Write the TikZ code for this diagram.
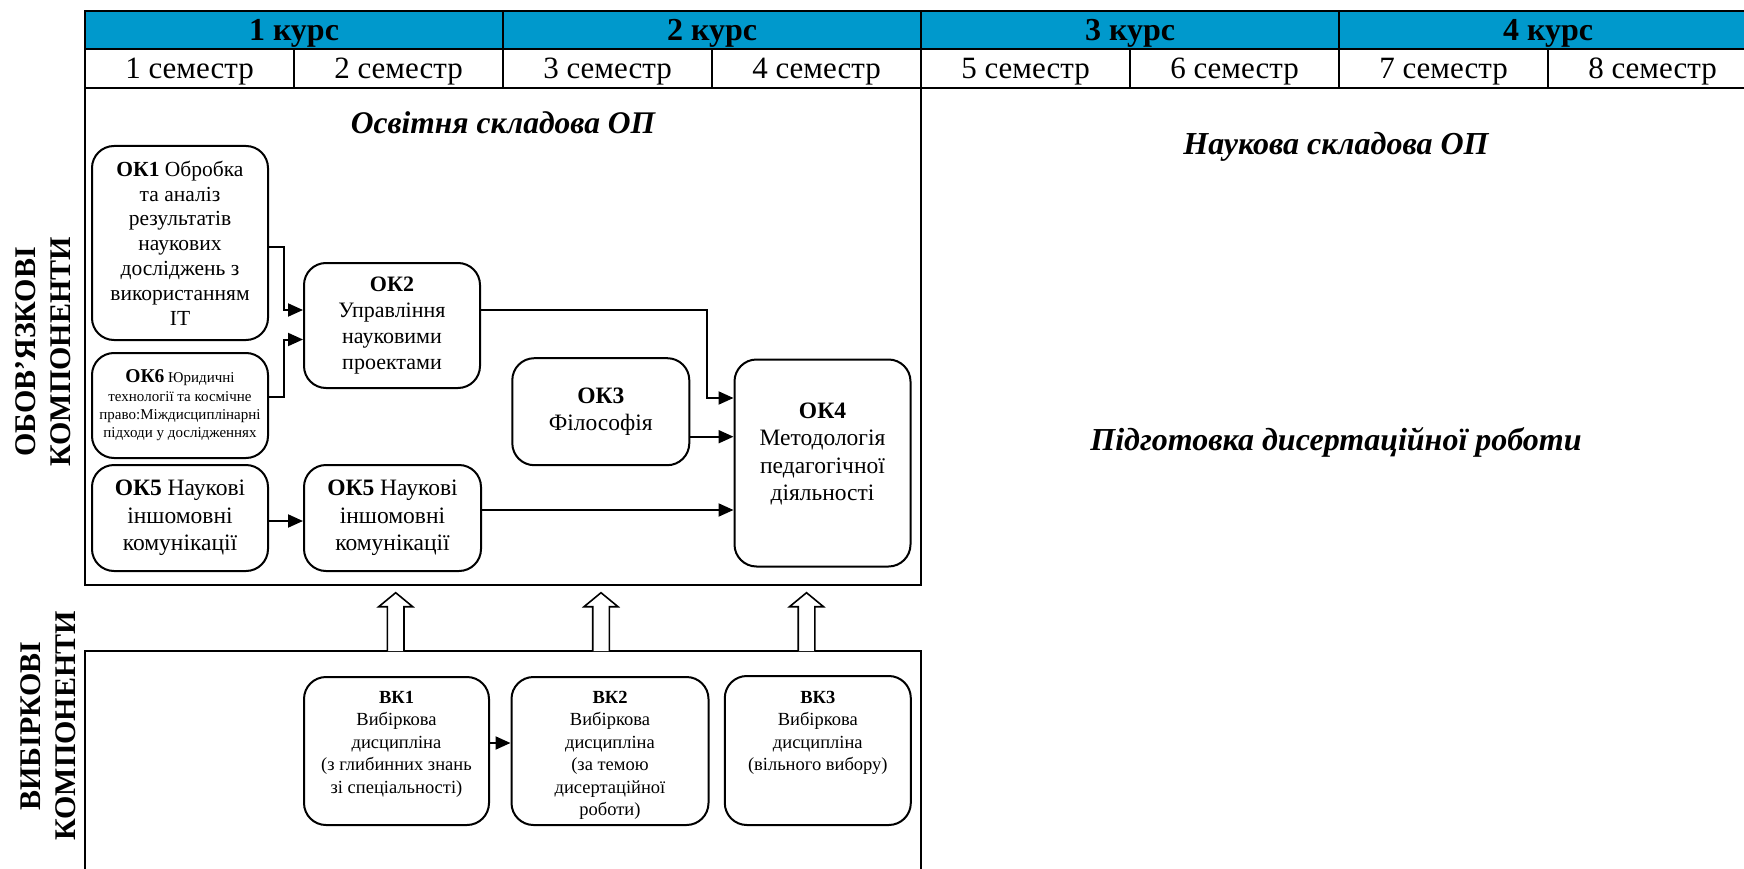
\documentclass[tikz,border=0pt]{standalone}
\usepackage{fontspec}
\setmainfont{Liberation Serif}
\usetikzlibrary{arrows.meta,calc}
\definecolor{hdrblue}{RGB}{0,153,204}
\newcommand\fsz[2]{\fontsize{#1}{#2}\selectfont}
\begin{document}
\begin{tikzpicture}[x=1pt,y=-1pt,
  cellbase/.style={draw, line width=2.3pt, inner sep=0pt, text depth=0pt},
  course/.style={cellbase, fill=hdrblue, minimum width=418pt, minimum height=38pt, font={\bfseries\fsz{32}{36}}},
  sem/.style={cellbase, minimum width=209pt, minimum height=39pt, font={\fsz{31}{34}}},
  frame/.style={draw, line width=2.3pt, inner sep=0pt},
  box/.style={draw, line width=2pt, rounded corners=22pt, align=center, inner sep=0pt},
  boxtext/.style={align=center, inner sep=0pt},
  bktext/.style={align=center, inner sep=0pt, font={\fsz{18.5}{22.5}}},
  title/.style={inner sep=0pt, text depth=0pt, font={\bfseries\itshape\fsz{31.5}{36}}},
  side/.style={rotate=90, align=center, inner sep=0pt, font={\bfseries\fsz{30}{35.5}}},
  arr/.style={line width=2pt, -{Triangle[length=15pt,width=13pt]}},
  hollow/.style={line width=1.6pt, fill=white, line join=miter}
]
\useasboundingbox (0,0) rectangle (1744,869);
\clip (0,0) rectangle (1744,869);

% header table
\foreach \i/\cx in {1/294, 2/712, 3/1130, 4/1548} {
  \node[course] (c\i) at (\cx,30) {\i\ курс};
}
\foreach \i in {1,...,8} {
  \node[sem] (s\i) at ({85+209*(\i-0.5)},68.5) {\i\ семестр};
}

% frames
\node[frame, minimum width=836pt, minimum height=497pt] (edu) at (503,336.5) {};
\node[frame, minimum width=836pt, minimum height=240pt] (vib) at (503,771) {};

% titles
\node[title] (edutitle) at (503,122.5) {Освітня складова ОП};
\node[title, font={\bfseries\itshape\fsz{32}{36}}] (scititle) at (1336,143) {Наукова складова ОП};
\node[title, font={\bfseries\itshape\fsz{32}{36}}] (diss) at (1336,439) {Підготовка дисертаційної роботи};

% side labels
\node[side] (oblab) at (43,352) {ОБОВ’ЯЗКОВІ\\КОМПОНЕНТИ};
\node[side] (viblab) at (48,726) {ВИБІРКОВІ\\КОМПОНЕНТИ};

% compulsory components
\node[box, minimum width=176pt, minimum height=194pt, font={\fsz{21.5}{24.8}}] (ok1) at (180,243)
  {\textbf{ОК1} Обробка\\та аналіз\\результатів\\наукових\\досліджень з\\використанням\\IT};
\node[box, minimum width=176pt, minimum height=105pt, font={\fsz{15}{18.3}}] (ok6) at (180,405.5)
  {{\fsz{19.5}{18.3}\textbf{ОК6}} Юридичні\\технології та космічне\\право:Міждисциплінарні\\підходи у дослідженнях};
\node[box, minimum width=176pt, minimum height=106pt, font={\fsz{23.5}{27.5}}] (ok5a) at (180,518)
  {\textbf{ОК5} Наукові\\іншомовні\\комунікації};
\node[box, minimum width=176pt, minimum height=125pt, font={\fsz{22}{26}}] (ok2) at (392,325.5)
  {\textbf{ОК2}\\Управління\\науковими\\проектами};
\node[box, minimum width=177pt, minimum height=106pt, font={\fsz{23.5}{27.5}}] (ok5b) at (392.5,518)
  {\textbf{ОК5} Наукові\\іншомовні\\комунікації};
\node[box, minimum width=177pt, minimum height=107pt, font={\fsz{23.5}{27.5}}] (ok3) at (600.8,411.7)
  {\textbf{ОК3}\\Філософія};
\node[box, minimum width=176pt, minimum height=207pt] (ok4) at (822.5,463) {};
\node[boxtext, font={\fsz{23.5}{27.3}}] (ok4t) at (822.5,454)
  {\textbf{ОК4}\\Методологія\\педагогічної\\діяльності};

% elective components
\node[box, minimum width=185pt, minimum height=148pt] (bk1) at (396.5,751) {};
\node[bktext, anchor=north] (bk1t) at (396.5,691)
  {\textbf{ВК1}\\Вибіркова\\дисципліна\\(з глибинних знань\\зі спеціальності)};
\node[box, minimum width=197pt, minimum height=148pt] (bk2) at (610,751) {};
\node[bktext, anchor=north] (bk2t) at (610,691)
  {\textbf{ВК2}\\Вибіркова\\дисципліна\\(за темою\\дисертаційної\\роботи)};
\node[box, minimum width=186pt, minimum height=149pt] (bk3) at (817.8,750.5) {};
\node[bktext, anchor=north] (bk3t) at (817.8,691)
  {\textbf{ВК3}\\Вибіркова\\дисципліна\\(вільного вибору)};

% connectors
\coordinate (m12) at (284,0);
\coordinate (m24) at (707,0);
\coordinate (p1) at ($(ok1.east)+(0,4)$);
\coordinate (p6) at ($(ok6.east)+(0,-9)$);
\coordinate (p2) at ($(ok2.east)+(0,-15.5)$);
\coordinate (p3) at ($(ok3.east)+(0,25)$);
\coordinate (p5b) at ($(ok5b.east)+(0,-8)$);
\coordinate (p5a) at ($(ok5a.east)+(0,3)$);
\coordinate (pb) at ($(bk1.east)+(0,-8)$);

\draw[arr] (p1) -- (p1 -| m12) |- ($(ok2.west)+(0,-15.5)$);
\draw[arr] (p6) -- (p6 -| m12) |- ($(ok2.west)+(0,14)$);
\draw[arr] (p2) -- (p2 -| m24) |- ($(ok4.west)+(0,-65)$);
\draw[arr] (p3) -- (p3 -| ok4.west);
\draw[arr] (p5b) -- (p5b -| ok4.west);
\draw[arr] (p5a) -- (p5a -| ok5b.west);
\draw[arr] (pb) -- (pb -| bk2.west);

% hollow block arrows
\foreach \ax in {395.7,601,806.5} {
  \draw[hollow] (\ax-8.3,651) -- (\ax-8.3,606.7) -- (\ax-17,606.7) -- (\ax,592.7)
     -- (\ax+17,606.7) -- (\ax+8.3,606.7) -- (\ax+8.3,651);
}
\end{tikzpicture}
\end{document}
